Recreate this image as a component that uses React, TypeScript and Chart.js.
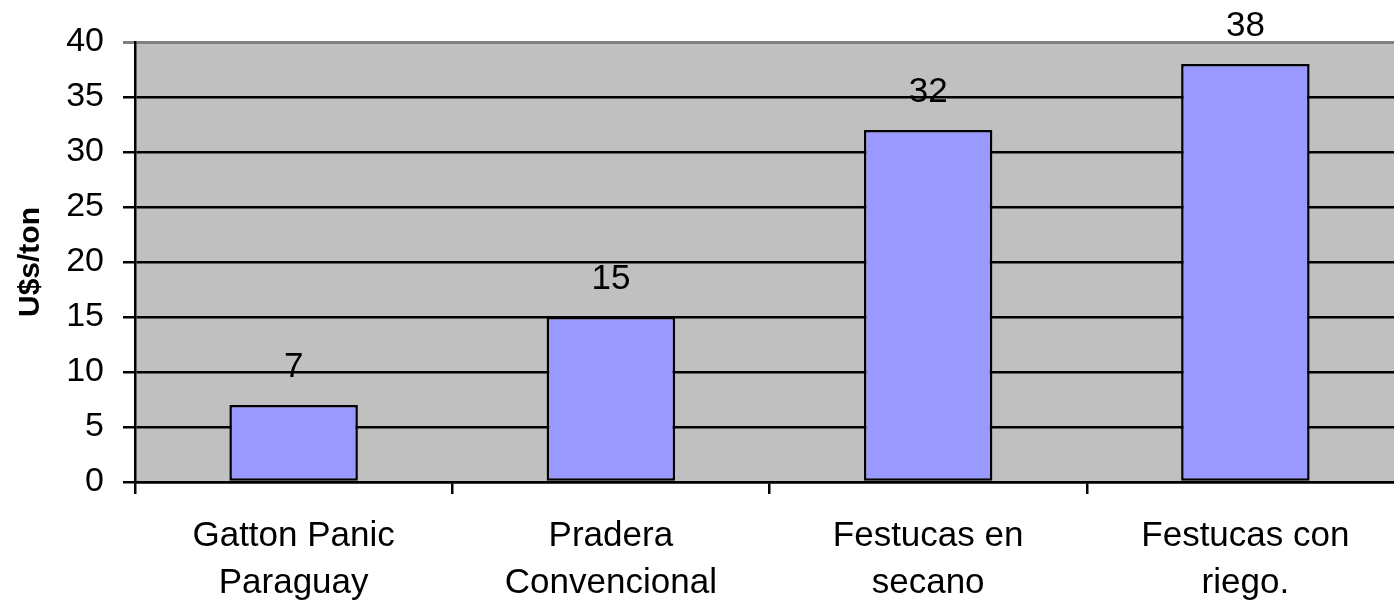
import React, { useEffect, useRef } from "react";
import { Chart, registerables } from "chart.js";

Chart.register(...registerables);

const categories: string[][] = [
  ["Gatton Panic", "Paraguay"],
  ["Pradera", "Convencional"],
  ["Festucas en", "secano"],
  ["Festucas con", "riego."],
];
const values: number[] = [7, 15, 32, 38];
const yTitle = "U$s/ton";

const FONT = "'Liberation Sans', Arial, sans-serif";

const bgPlugin = {
  id: "plotBg",
  beforeDraw(chart: any) {
    const { ctx, chartArea } = chart;
    ctx.save();
    ctx.fillStyle = "#C0C0C0";
    ctx.fillRect(chartArea.left, chartArea.top, chartArea.right - chartArea.left, chartArea.bottom - chartArea.top);
    ctx.restore();
  },
};

const valueLabels = {
  id: "valueLabels",
  afterDatasetsDraw(chart: any) {
    const { ctx } = chart;
    const meta = chart.getDatasetMeta(0);
    ctx.save();
    ctx.font = `35px ${FONT}`;
    ctx.fillStyle = "#000";
    ctx.textAlign = "center";
    ctx.textBaseline = "middle";
    meta.data.forEach((el: any, i: number) => {
      ctx.fillText(String(values[i]), el.x, el.y - 38);
    });
    ctx.restore();
  },
};

export default function App() {
  const ref = useRef<HTMLCanvasElement | null>(null);
  useEffect(() => {
    if (!ref.current) return;
    const chart = new Chart(ref.current, {
      type: "bar",
      data: {
        labels: categories,
        datasets: [
          {
            data: values,
            backgroundColor: "#9999FF",
            borderColor: "#000000",
            borderWidth: 2.5,
            borderSkipped: false,
            categoryPercentage: 0.405,
            barPercentage: 1,
          },
        ],
      },
      options: {
        animation: false,
        responsive: false,
        maintainAspectRatio: false,
        layout: { padding: { left: 0, right: 16, top: 42, bottom: 0 } },
        plugins: { legend: { display: false }, tooltip: { enabled: false } },
        scales: {
          x: {
            offset: true,
            afterFit(scale: any) {
              scale.height = 123;
            },
            grid: {
              offset: true,
              drawOnChartArea: false,
              drawTicks: true,
              tickLength: 12,
              color: "#000",
              lineWidth: 2.5,
            },
            border: { display: true, color: "#000", width: 2.5 },
            ticks: {
              color: "#000",
              font: { family: FONT, size: 35, lineHeight: 1.343 },
              padding: 19,
              maxRotation: 0,
              autoSkip: false,
            },
          },
          y: {
            min: 0,
            max: 40,
            afterFit(scale: any) {
              scale.width = 135;
            },
            grid: {
              color: (c: any) => (c.tick && c.tick.value === 40 ? "#808080" : "#000"),
              lineWidth: (c: any) => (c.tick && c.tick.value === 40 ? 3 : 2.5),
              tickLength: 12,
              drawTicks: true,
            },
            border: { display: true, color: "#000", width: 2.5 },
            ticks: {
              stepSize: 5,
              color: "#000",
              padding: 19,
              font: { family: FONT, size: 34 },
            },
            title: {
              display: true,
              text: yTitle,
              color: "#000",
              font: { family: FONT, size: 30, weight: "bold" },
              padding: { top: 13, bottom: 0 },
            },
          },
        },
      },
      plugins: [bgPlugin, valueLabels],
    } as any);
    return () => chart.destroy();
  }, []);
  return (
    <div style={{ position: "fixed", left: 0, top: 0, width: 1394, height: 605, overflow: "hidden", background: "#fff" }}>
      <canvas ref={ref} width={1420} height={605} style={{ display: "block", width: 1420, height: 605 }} />
    </div>
  );
}
